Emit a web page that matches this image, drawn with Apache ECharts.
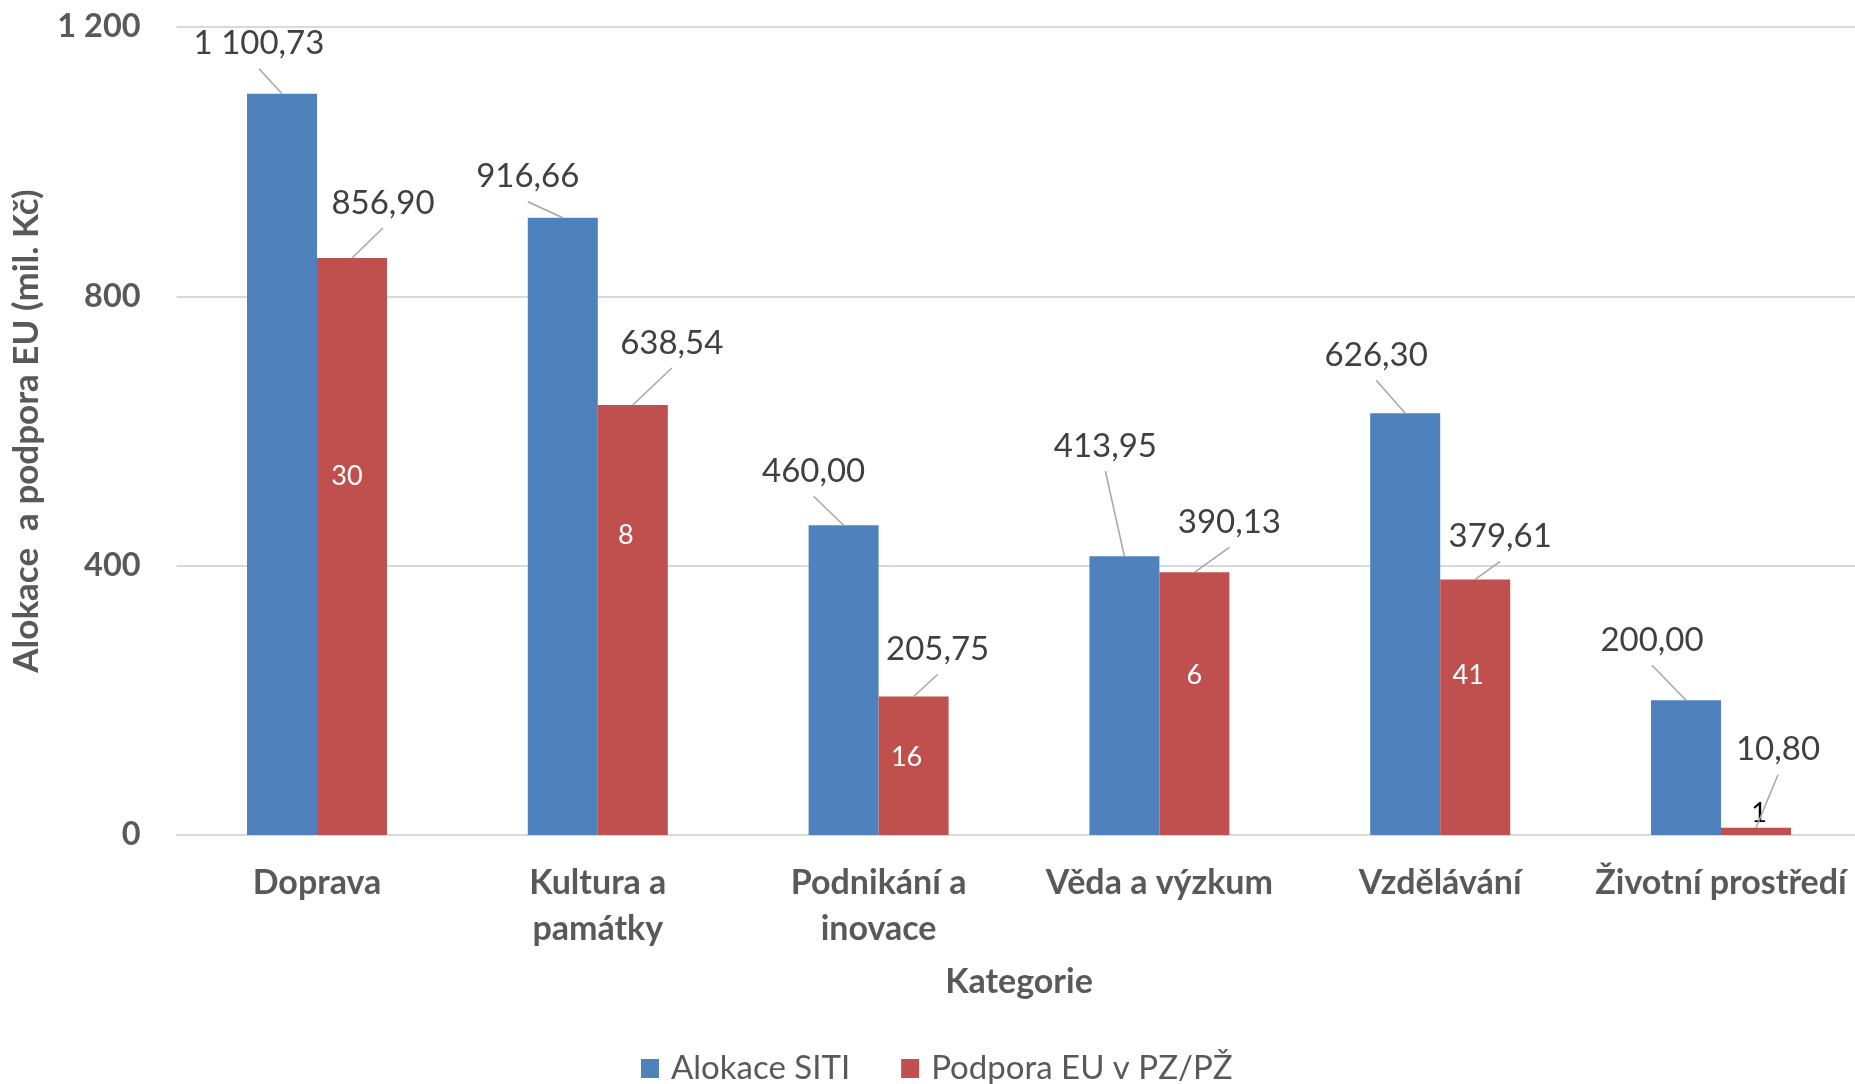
<!DOCTYPE html>
<html>
<head>
<meta charset="utf-8">
<script src="https://cdn.jsdelivr.net/npm/echarts@6/dist/echarts.min.js"></script>
<style>
html,body{margin:0;padding:0;background:#fff;}
#chart{width:1855px;height:1084px;}
</style>
</head>
<body>
<div id="chart"></div>
<script>
// ---- data ----
const categories = ['Doprava', 'Kultura a\npamátky', 'Podnikání a\ninovace', 'Věda a výzkum', 'Vzdělávání', 'Životní prostředí'];
const alokaceSITI = [1100.73, 916.66, 460.00, 413.95, 626.30, 200.00];
const podporaEU = [856.90, 638.54, 205.75, 390.13, 379.61, 10.80];
const counts = [30, 8, 16, 6, 41, 1];
const yTicks = [0, 400, 800, 1200];

// ---- layout (label offsets from bar top centre, px) ----
const BAR_W = 70;
const blueLabelDx = [-23, -35, -30, -19, -29, -34];
const blueLabelDy = [-50, -41, -54, -110, -58, -60];
const redLabelDx = [31, 39, 24, 35, 25, 22];
const redLabelDy = [-55, -62, -47, -50, -43, -78];
const countLabelDx = [-5, -7, -7, 0, -7, 3];
const countLabelDy = [218, 130, 61, 103, 96, -14];
const countLabelColors = ['#ffffff', '#ffffff', '#ffffff', '#ffffff', '#ffffff', '#000000'];

const FONT = 'Lato, "Open Sans", sans-serif';

function cz(v, d) {
  const s = v.toFixed(d);
  const parts = s.split('.');
  const i = parts[0].replace(/\B(?=(\d{3})+(?!\d))/g, ' ');
  return parts[1] ? i + ',' + parts[1] : i;
}

function valueLabelLayout(dxArr, dyArr) {
  return function (p) {
    const r = p.rect;
    const cx = r.x + r.width / 2;
    return {x: cx + dxArr[p.dataIndex], y: r.y + dyArr[p.dataIndex], align: 'center', verticalAlign: 'middle'};
  };
}

// leader line series: from bar-top centre to just below the moved label
function leaderSeries(values, side, dxArr, dyArr) {
  return {
    type: 'custom', xAxisIndex: 0, silent: true, z: 5,
    data: values.map((v, i) => [i, v]),
    encode: {x: 0, y: 1},
    renderItem: function (params, api) {
      const i = api.value(0);
      const pt = api.coord([i, api.value(1)]);
      const x0 = pt[0] + side * BAR_W / 2;
      const y0 = pt[1];
      const x1 = x0 + dxArr[i];
      const y1 = y0 + dyArr[i] + 25;
      return {
        type: 'line',
        shape: {x1: x0, y1: y0, x2: x1, y2: y1},
        style: {stroke: '#a6a6a6', lineWidth: 1.5}
      };
    }
  };
}

const chart = echarts.init(document.getElementById('chart'), null, {renderer: 'canvas'});
chart.setOption({
  animation: false,
  backgroundColor: '#ffffff',
  textStyle: {fontFamily: FONT},
  grid: {left: 176.6, right: -6.4, top: 27, bottom: 249, containLabel: false, outerBoundsMode: 'none'},
  legend: {
    data: ['Alokace SITI', 'Podpora EU v PZ/PŽ'],
    left: 636, top: 1047,
    icon: 'rect', itemWidth: 18, itemHeight: 19, itemGap: 51,
    textStyle: {fontSize: 33, color: '#595959', fontFamily: FONT, padding: [0, 0, 0, 7]}
  },
  xAxis: [{
    type: 'category',
    data: categories,
    axisTick: {show: false},
    axisLine: {lineStyle: {color: '#d9d9d9', width: 2}},
    axisLabel: {fontSize: 34, fontWeight: 'bold', color: '#595959', lineHeight: 46, margin: 25, fontFamily: FONT, interval: 0},
    name: 'Kategorie', nameLocation: 'middle', nameGap: 127,
    nameTextStyle: {fontSize: 34, fontWeight: 'bold', color: '#595959', lineHeight: 40, fontFamily: FONT}
  }, {
    type: 'category',
    data: categories,
    show: false
  }],
  yAxis: {
    type: 'value', min: yTicks[0], max: yTicks[yTicks.length - 1], interval: 400,
    axisLine: {show: false}, axisTick: {show: false},
    splitLine: {lineStyle: {color: '#d9d9d9', width: 2}},
    axisLabel: {fontSize: 32.5, fontWeight: 'bold', color: '#595959', margin: 36, fontFamily: FONT, formatter: v => cz(v, 0)},
    name: 'Alokace  a podpora EU (mil. Kč)', nameLocation: 'middle', nameGap: 126,
    nameTextStyle: {fontSize: 35, fontWeight: 'bold', color: '#595959', lineHeight: 40, fontFamily: FONT}
  },
  series: [{
    name: 'Alokace SITI', type: 'bar', data: alokaceSITI, barWidth: BAR_W, barGap: '0%',
    itemStyle: {color: '#4F81BD'},
    label: {show: true, position: 'top', fontSize: 33, color: '#404040', fontFamily: FONT, formatter: p => cz(p.value, 2)},
    labelLayout: valueLabelLayout(blueLabelDx, blueLabelDy)
  }, {
    name: 'Podpora EU v PZ/PŽ', type: 'bar', data: podporaEU, barWidth: BAR_W, barGap: '0%',
    itemStyle: {color: '#C0504D'},
    label: {show: true, position: 'top', fontSize: 33, color: '#404040', fontFamily: FONT, formatter: p => cz(p.value, 2)},
    labelLayout: valueLabelLayout(redLabelDx, redLabelDy)
  }, {
    type: 'bar', xAxisIndex: 1, data: alokaceSITI, barWidth: BAR_W, barGap: '0%', silent: true,
    itemStyle: {color: 'rgba(0,0,0,0)'}, label: {show: false}
  }, {
    type: 'bar', xAxisIndex: 1, barWidth: BAR_W, barGap: '0%', silent: true,
    data: podporaEU.map((v, i) => ({value: v, label: {color: countLabelColors[i]}})),
    itemStyle: {color: 'rgba(0,0,0,0)'},
    label: {show: true, position: 'inside', fontSize: 27, fontFamily: FONT, formatter: p => String(counts[p.dataIndex])},
    labelLayout: function (p) {
      const r = p.rect;
      return {x: r.x + r.width / 2 + countLabelDx[p.dataIndex], y: r.y + countLabelDy[p.dataIndex], align: 'center', verticalAlign: 'middle'};
    }
  },
  leaderSeries(alokaceSITI, -1, blueLabelDx, blueLabelDy),
  leaderSeries(podporaEU, 1, redLabelDx, redLabelDy)
  ]
});
</script>
</body>
</html>
